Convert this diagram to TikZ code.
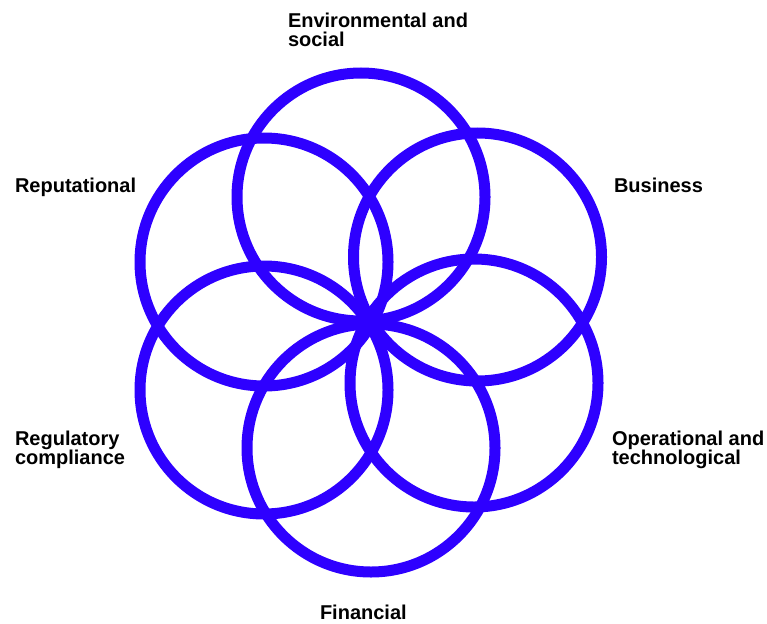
\documentclass[tikz,border=0pt]{standalone}
\usepackage{fontspec}
\setmainfont{Liberation Sans}
\definecolor{ringblue}{RGB}{46,0,255}
\begin{document}
\begin{tikzpicture}[x=1pt,y=-1pt,
  ring/.style={circle,draw=ringblue,line width=11pt,minimum size=248pt,inner sep=0pt,outer sep=0pt},
  lbl/.style={anchor=base west,align=left,inner sep=0pt,outer sep=0pt,
    font=\fontsize{20}{19}\selectfont\bfseries,text=black}]
\useasboundingbox (0,0) rectangle (767,623);
\node[ring] (env) at (361,197) {};
\node[ring] (bus) at (477.5,257) {};
\node[ring] (ops) at (474,383) {};
\node[ring] (fin) at (371,448) {};
\node[ring] (reg) at (264,390) {};
\node[ring] (rep) at (264,262) {};
\node[lbl] (tenv) at (288,47) {Environmental and\\social};
\node[lbl] (trep) at (15,192) {Reputational};
\node[lbl] (tbus) at (614,192) {Business};
\node[lbl] (treg) at (15,464) {Regulatory\\compliance};
\node[lbl] (tops) at (612,464) {Operational and\\technological};
\node[lbl] (tfin) at (320,619) {Financial};
\end{tikzpicture}
\end{document}
